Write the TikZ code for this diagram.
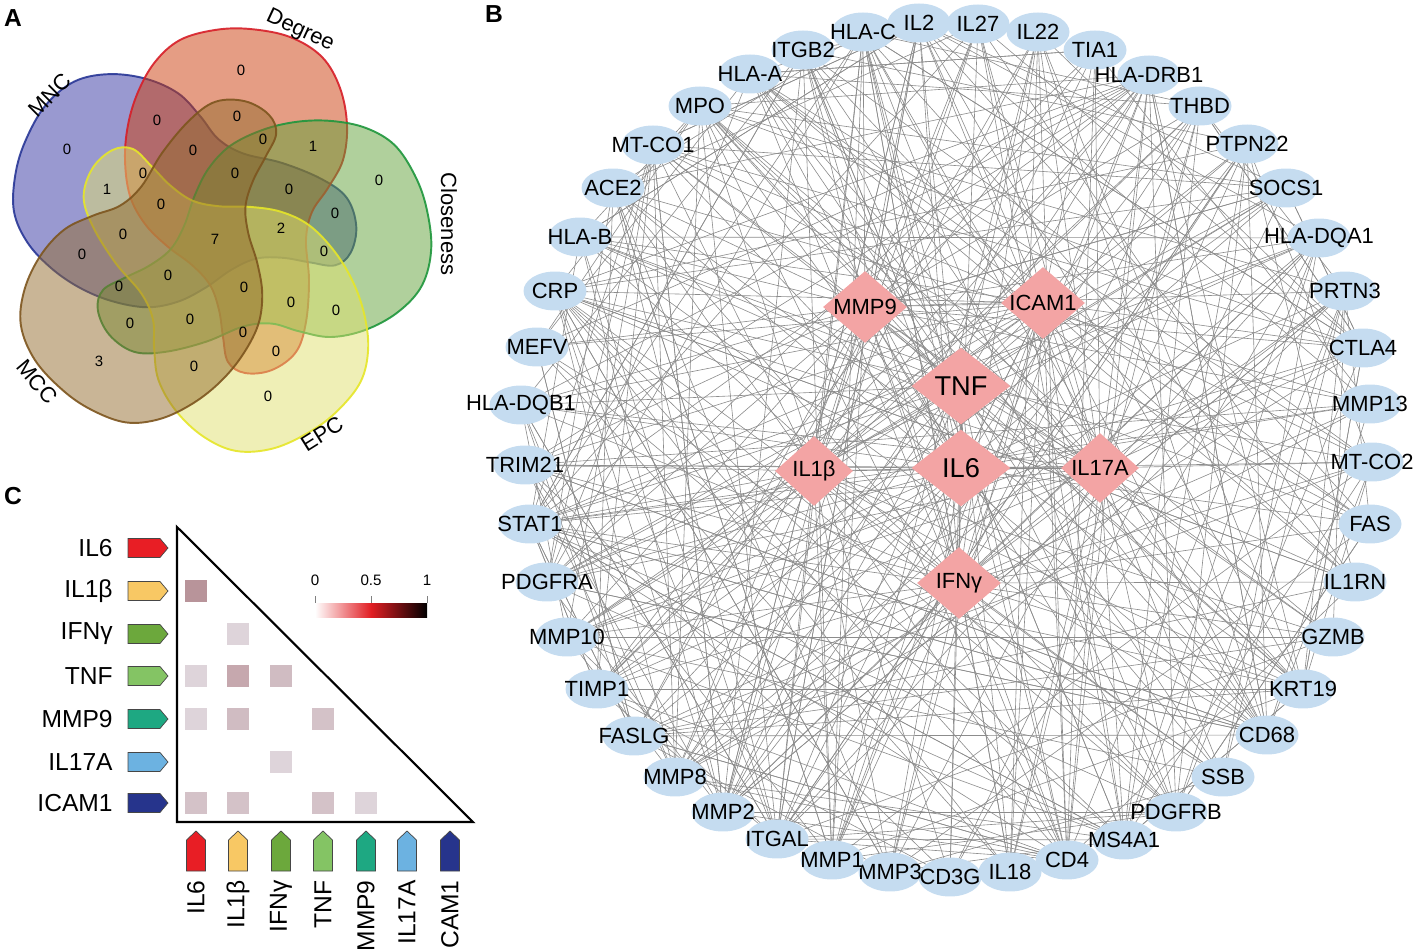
\documentclass[tikz,border=0pt]{standalone}
\usepackage{fontspec}
\setmainfont{Liberation Sans}
\usetikzlibrary{shapes.geometric,backgrounds}
\definecolor{geneblue}{RGB}{197,220,240}
\definecolor{hubpink}{RGB}{243,164,164}
\definecolor{edgegray}{RGB}{140,140,140}
\definecolor{degF}{RGB}{204,60,10}
\definecolor{degD}{RGB}{215,30,40}
\definecolor{cloF}{RGB}{97,162,57}
\definecolor{cloD}{RGB}{30,150,60}
\definecolor{epcF}{RGB}{224,224,110}
\definecolor{epcD}{RGB}{230,230,40}
\definecolor{mccF}{RGB}{147,108,46}
\definecolor{mccD}{RGB}{125,85,30}
\definecolor{mncF}{RGB}{51,51,162}
\definecolor{mncD}{RGB}{40,55,150}
\definecolor{tagA}{RGB}{232,30,37}
\definecolor{tagB}{RGB}{248,200,100}
\definecolor{tagC}{RGB}{108,168,60}
\definecolor{tagD}{RGB}{132,196,100}
\definecolor{tagE}{RGB}{30,168,130}
\definecolor{tagF}{RGB}{108,178,225}
\definecolor{tagG}{RGB}{38,52,140}
\definecolor{tagedge}{RGB}{70,70,70}
\definecolor{heatA}{RGB}{184,148,154}
\definecolor{heatB}{RGB}{198,168,174}
\definecolor{heatC}{RGB}{208,188,194}
\definecolor{heatD}{RGB}{212,194,200}
\definecolor{heatE}{RGB}{222,212,218}
\definecolor{cbred}{RGB}{225,30,35}
\newcommand\genefont{\fontsize{12.5}{14}\selectfont}
\newcommand\hubfont{\fontsize{12.5}{14}\selectfont}
\newcommand\bighubfont{\fontsize{15.5}{17}\selectfont}
\newcommand\vennnumfont{\fontsize{8.5}{10}\selectfont}
\newcommand\vennlabfont{\fontsize{12.5}{14}\selectfont}
\newcommand\panelfont{\fontsize{14}{16}\selectfont\bfseries}
\newcommand\clabfont{\fontsize{14}{16}\selectfont}
\newcommand\cbfont{\fontsize{8.6}{10}\selectfont}
\begin{document}
\begin{tikzpicture}[x=0.02cm,y=-0.02cm,
  gene/.style={ellipse, fill=geneblue, minimum width=1.26cm, minimum height=0.78cm, inner sep=0pt, label={[font=\genefont, inner sep=0pt]center:#1}},
  hubs/.style={diamond, fill=hubpink, inner sep=0pt, minimum width=1.68cm, minimum height=1.44cm, label={[font=\hubfont, inner sep=0pt]center:#1}},
  hubm/.style={diamond, fill=hubpink, inner sep=0pt, minimum width=1.56cm, minimum height=1.40cm, label={[font=\hubfont, inner sep=0pt]center:#1}},
  hubb/.style={diamond, fill=hubpink, inner sep=0pt, minimum width=1.98cm, minimum height=1.54cm, label={[font=\bighubfont, inner sep=0pt]center:#1}},
  netline/.style={draw=edgegray, line width=0.35pt},
  vnum/.style={font=\vennnumfont, inner sep=0pt},
  vlab/.style={font=\vennlabfont, inner sep=0pt},
  panel/.style={font=\panelfont, inner sep=0pt},
  rowlab/.style={font=\clabfont, inner sep=0pt},
  cbnum/.style={font=\cbfont, inner sep=0pt},
  tagshape/.style={draw=tagedge, line width=0.4pt}
]
\useasboundingbox (0,0) rectangle (1414,949);

% ---------------- Panel A ----------------
\node[panel] (pA) at (13,18) {A};
\foreach \ang/\fc/\dc in {-288/mncF/mncD, 0/degF/degD, -72/cloF/cloD, -144/epcF/epcD, -216/mccF/mccD}{
  \filldraw[fill=\fc, draw=\dc, fill opacity=0.5, draw opacity=0.9, line width=1.1pt, rotate around={\ang:(215,240)}]
    plot[smooth cycle, tension=0.6] coordinates {(125,160) (128,125) (138,92) (155,62) (180,40) (215,30) (250,29) (290,37) (322,57) (340,88) (347,125) (343,160) (328,188) (312,212) (306,240) (309,280) (306,322) (296,352) (272,370) (245,373) (228,362) (223,337) (219,310) (210,285) (192,265) (167,246) (145,224) (130,196)};
}
\foreach \x/\y/\t [count=\k] in {241/70/0, 157/120/0, 67/149/0, 237/116/0, 263/139/0, 313/146/1, 193/150/0, 235/173/0, 143/173/0, 107/189/1, 379/180/0, 289/189/0, 161/204/0, 335/213/0, 281/228/2, 215/239/7, 123/234/0, 324/251/0, 82/254/0, 168/275/0, 119/286/0, 244/287/0, 291/302/0, 336/310/0, 130/323/0, 190/319/0, 243/332/0, 276/351/0, 99/361/3, 194/366/0, 268/396/0}{
  \node[vnum] (v\k) at (\x,\y) {\t};
}
\node[vlab, rotate=-25] (lDeg) at (300,31) {Degree};
\node[vlab, rotate=-90] (lClo) at (449,224) {Closeness};
\node[vlab, rotate=32] (lEPC) at (322,434) {EPC};
\node[vlab, rotate=-50] (lMCC) at (37,382) {MCC};
\node[vlab, rotate=45] (lMNC) at (50,95) {MNC};

% ---------------- Panel B ----------------
\node[panel] (pB) at (494,14) {B};
\foreach \x/\y/\t [count=\k] in {919/23/IL2, 978/24/IL27, 1038/32/IL22, 1095/50/TIA1, 1149/75/HLA-DRB1, 1200/106/THBD, 1247/144/PTPN22, 1286/188/SOCS1, 1319/238/HLA-DQA1, 1345/291/PRTN3, 1363/348/CTLA4, 1370/404/MMP13, 1372/462/MT-CO2, 1370/524/FAS, 1355/582/IL1RN, 1333/637/GZMB, 1303/689/KRT19, 1267/735/CD68, 1223/777/SSB, 1176/812/PDGFRB, 1124/840/MS4A1, 1067/860/CD4, 1010/872/IL18, 950/877/CD3G, 890/872/MMP3, 832/860/MMP1, 777/839/ITGAL, 723/812/MMP2, 675/777/MMP8, 634/736/FASLG, 597/689/TIMP1, 567/637/MMP10, 547/582/PDGFRA, 530/524/STAT1, 525/465/TRIM21, 521/405/HLA-DQB1, 537/347/MEFV, 555/291/CRP, 580/237/HLA-B, 613/188/ACE2, 653/145/MT-CO1, 700/106/MPO, 750/74/HLA-A, 803/50/ITGB2, 863/32/HLA-C}{
  \node[gene=\t] (o\k) at (\x,\y) {};
}
\node[hubb=TNF] (c1) at (961,386) {};
\node[hubb=IL6] (c2) at (961,468) {};
\node[hubs=MMP9] (c3) at (865,307) {};
\node[hubs=ICAM1] (c4) at (1043,303) {};
\node[hubm=IL1β] (c5) at (814,471) {};
\node[hubm=IL17A] (c6) at (1100,468) {};
\node[hubs=IFNγ] (c7) at (959,583) {};

\begin{scope}[on background layer]
\pgfmathsetseed{271}
\foreach \i in {1,...,45}{
  \foreach \c in {1,...,7}{
    \pgfmathtruncatemacro\r{rnd<0.6}
    \ifnum\r=1 \draw[netline] (o\i.center) -- (c\c.center);\fi
  }
}
\foreach \i in {1,...,45}{
  \foreach \k in {1,...,4}{
    \pgfmathtruncatemacro\j{mod(\i+3+floor(39*rnd),45)+1}
    \draw[netline] (o\i.center) -- (o\j.center);
  }
}
\foreach \i in {22,34,11,28,38,42,5,1,31,18,21,27}{
  \foreach \k in {1,...,6}{
    \pgfmathtruncatemacro\j{mod(\i+3+floor(39*rnd),45)+1}
    \draw[netline] (o\i.center) -- (o\j.center);
  }
}
\foreach \a/\b in {1/2,1/3,1/4,1/5,1/6,1/7,2/3,2/4,2/5,2/6,2/7,3/4,3/5,3/6,3/7,4/5,4/6,4/7,5/6,5/7,6/7}{
  \draw[netline] (c\a.center) -- (c\b.center);
}
\end{scope}

% ---------------- Panel C ----------------
\node[panel] (pC) at (13,496) {C};
\draw[line width=1.2pt, line join=miter] (177,527) -- (177,822) -- (473,822) -- cycle;
\foreach \y/\c/\t [count=\k] in {548/tagA/IL6, 591/tagB/IL1β, 634/tagC/IFNγ, 676/tagD/TNF, 719/tagE/MMP9, 762/tagF/IL17A, 803/tagG/ICAM1}{
  \node[rowlab, anchor=east] (r\k) at (113,\y) {\t};
  \filldraw[tagshape, fill=\c] (128,\y-9.5) -- (160,\y-9.5) -- (168,\y) -- (160,\y+9.5) -- (128,\y+9.5) -- cycle;
}
\foreach \x/\c/\t [count=\k] in {196/tagA/IL6, 238/tagB/IL1β, 281/tagC/IFNγ, 323/tagD/TNF, 366/tagE/MMP9, 407/tagF/IL17A, 450/tagG/ICAM1}{
  \filldraw[tagshape, fill=\c] (\x-9.5,871) -- (\x-9.5,840) -- (\x,831) -- (\x+9.5,840) -- (\x+9.5,871) -- cycle;
  \node[rowlab, rotate=90, anchor=east] (q\k) at (\x,880) {\t};
}
\foreach \x/\y/\c in {196/591/heatA, 238/634/heatE, 196/676/heatE, 238/676/heatB, 281/676/heatC, 196/719/heatE, 238/719/heatC, 323/719/heatD, 281/762/heatE, 196/803/heatD, 238/803/heatD, 323/803/heatD, 366/803/heatE}{
  \fill[\c] (\x-11,\y-11) rectangle (\x+11,\y+11);
}
\shade[left color=white, right color=black, middle color=cbred] (315,603) rectangle (427,617);
\draw[gray, line width=0.5pt] (315,596) -- (315,603) (371,596) -- (371,603) (427,596) -- (427,603);
\node[cbnum] (cb0) at (315,580) {0};
\node[cbnum] (cb5) at (371,580) {0.5};
\node[cbnum] (cb1) at (427,580) {1};
\end{tikzpicture}
\end{document}
